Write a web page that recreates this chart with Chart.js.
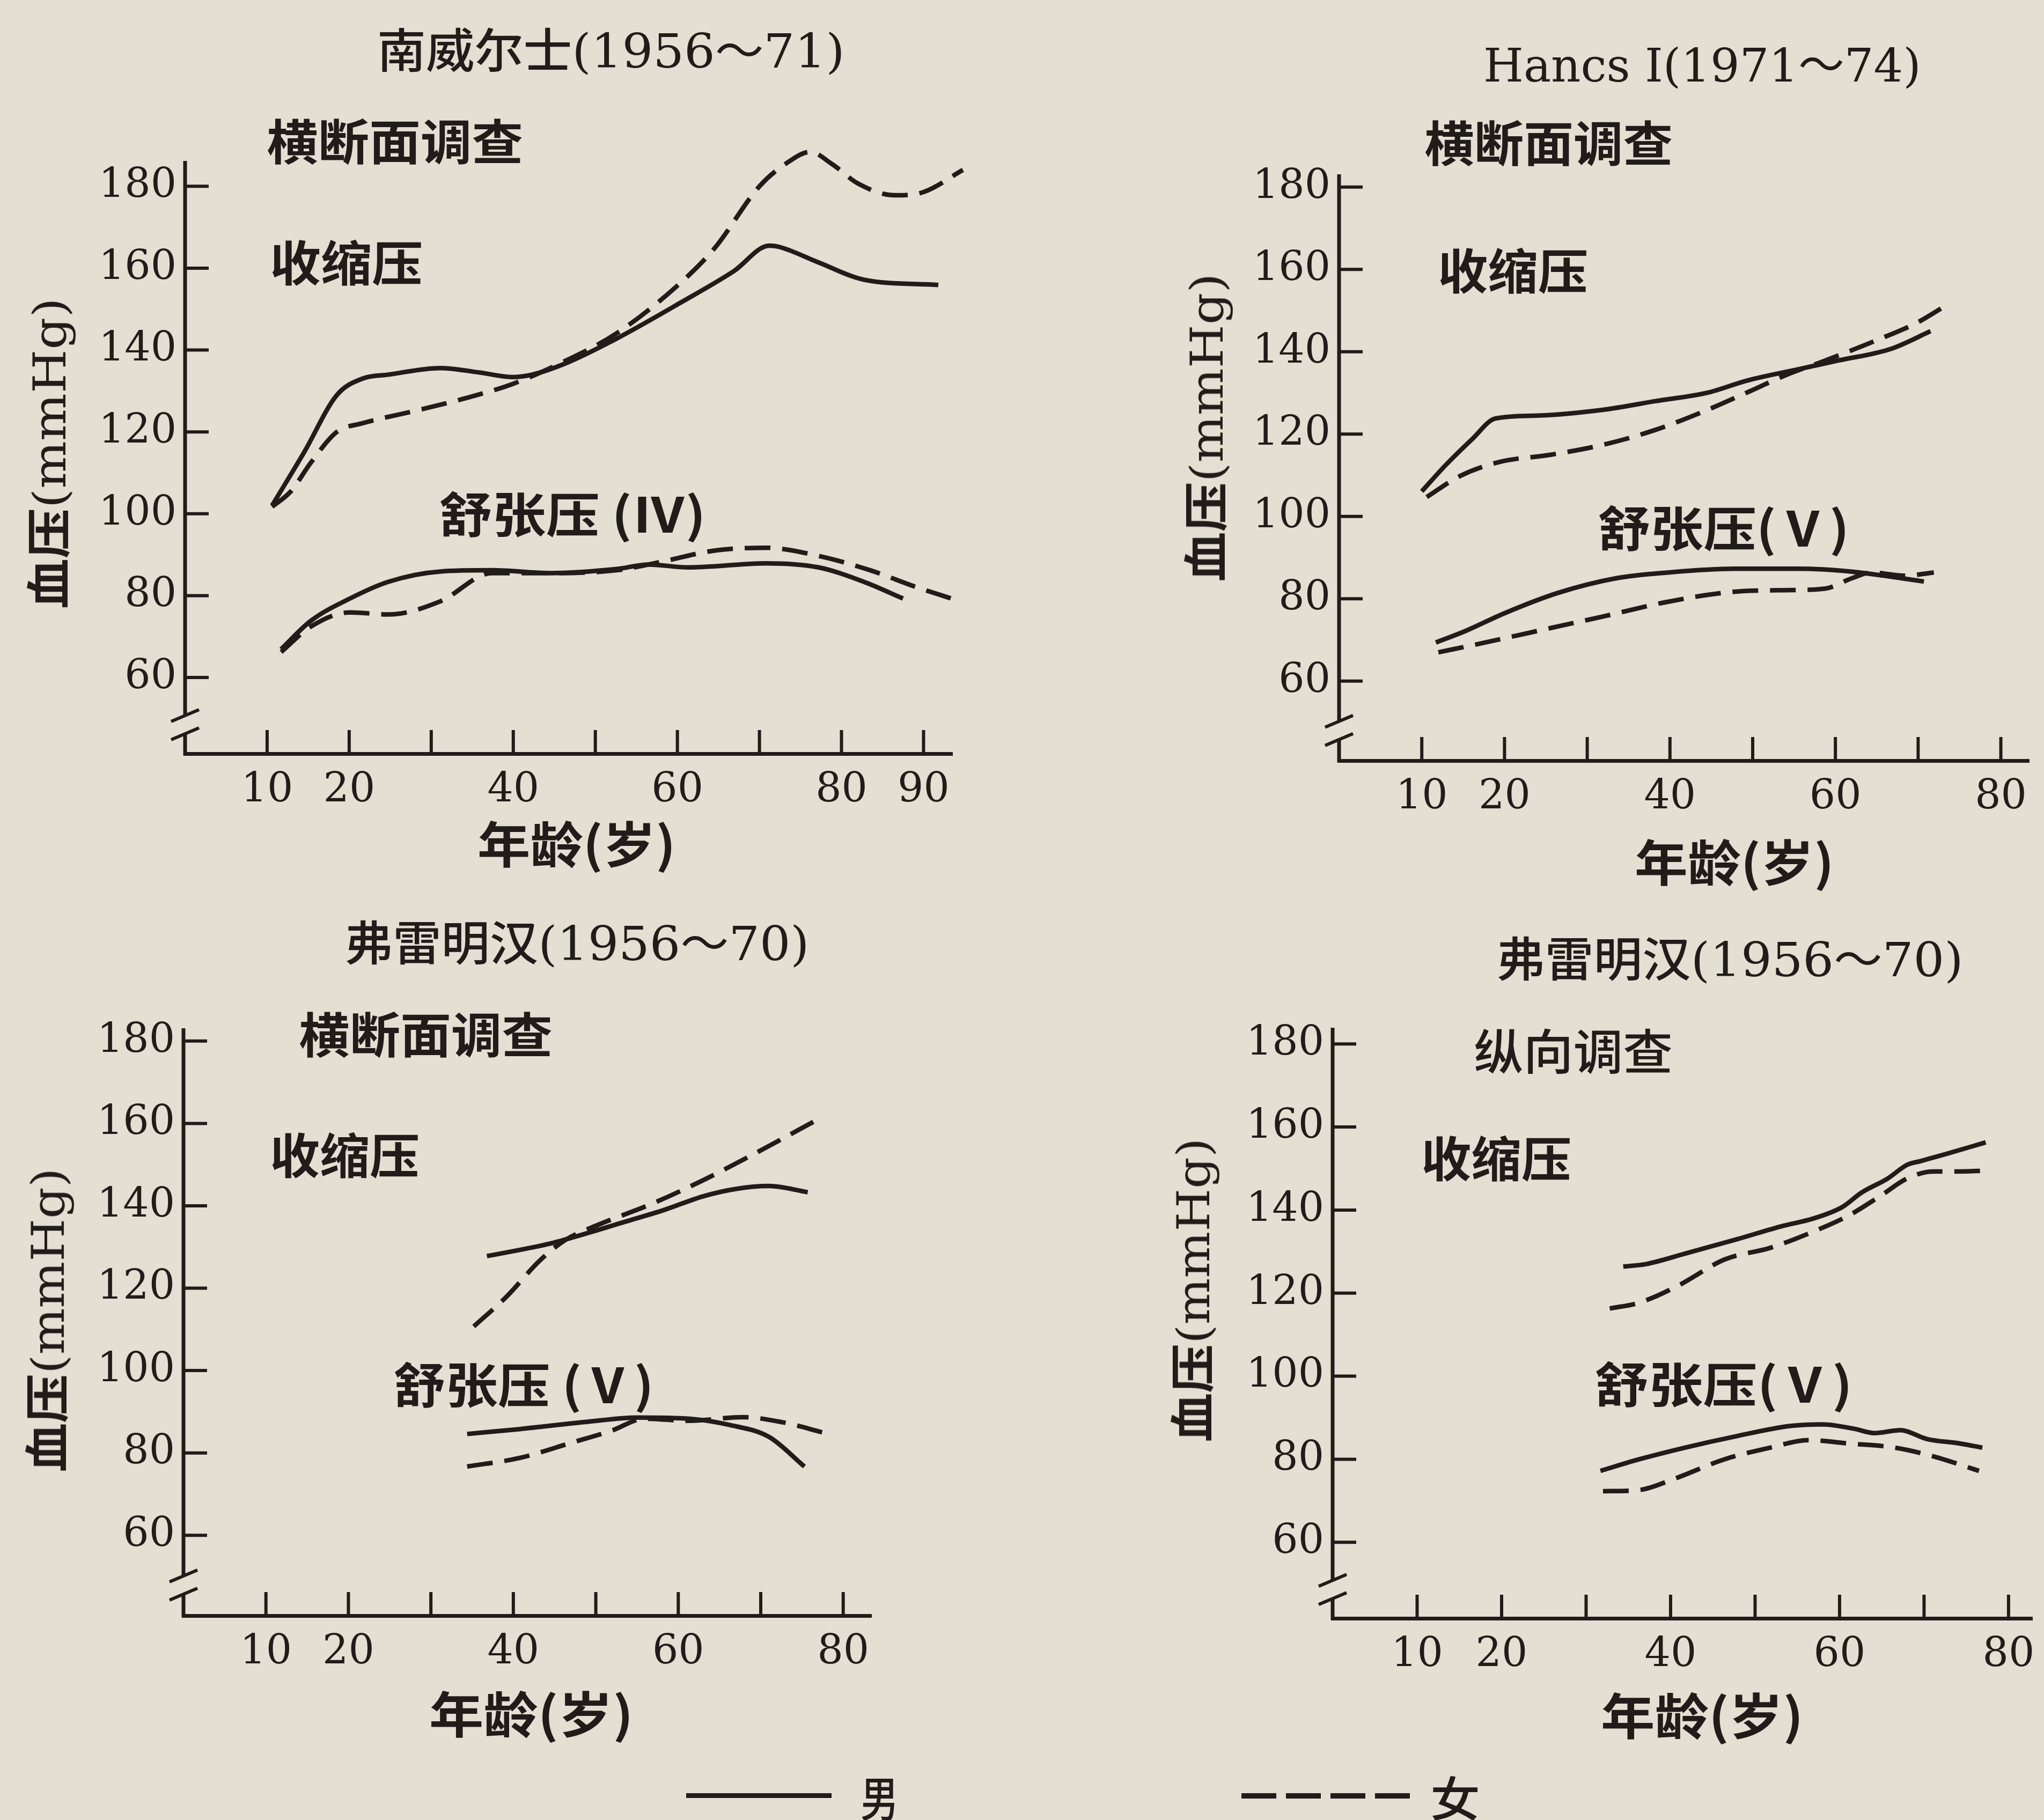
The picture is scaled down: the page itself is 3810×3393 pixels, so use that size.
<!DOCTYPE html>
<html><head><meta charset="utf-8">
<script src="https://cdn.jsdelivr.net/npm/chart.js@4"></script>
<style>
html,body{margin:0;padding:0;}
body{width:3810px;height:3393px;background:#e3dfd2;position:relative;overflow:hidden;}
canvas{position:absolute;}
.t{position:absolute;white-space:nowrap;color:#201c19;line-height:1;}
</style></head><body>
<script>
// ---------- data ----------
const xLabelsP1 = [10, 20, 40, 60, 80, 90];
const xLabelsOther = [10, 20, 40, 60, 80];
const yTickLabels = [60, 80, 100, 120, 140, 160, 180];

// Panel 1: 南威尔士(1956~71) 横断面调查  [age, mmHg]
const p1SysMale = [[10.6,102],[14.5,115],[18.5,129],[21.6,133],[24.8,134],[31.1,135.6],[35.9,134.5],[39.9,133.4],[42.3,134],[46.2,136.6],[52.6,142.8],[60.5,151.7],[66.9,159.3],[71.2,165.5],[72.4,165.2],[77.2,161.4],[82.7,157.2],[91.8,155.9]];
const p1SysFemale = [[10.6,101.7],[12.9,105.5],[15.3,112.4],[18.5,120],[21.6,122.1],[28.8,125.5],[34.3,128.3],[39.9,131.7],[46.2,137.2],[52.6,144.1],[59.7,155.2],[64.5,164.8],[70,180],[73.2,185.5],[76.2,188.4],[78.8,185.5],[82,180.7],[86.5,177.8],[90,178.6],[94.8,184]];
const p1DiaMale = [[11.7,66.9],[15.3,73.8],[20.1,79.3],[24.8,83.4],[31.1,85.9],[37.4,86.2],[44.5,85.5],[52.6,86.5],[56.5,87.6],[61.3,86.9],[70.8,87.9],[77.2,86.9],[82.7,83.4],[87.5,79.3]];
const p1DiaFemale = [[11.7,66.2],[15.3,72.4],[20.1,75.9],[24.8,75.4],[31.1,78.6],[37.4,85.5],[44.5,85.5],[52.6,86.2],[58.1,88.3],[64.5,91],[70.8,91.7],[77.2,89.7],[83.5,86.2],[89.1,82.1],[94.5,78.6]];

// Panel 2: Hancs I(1971~74) 横断面调查
const p2SysMale = [[10,106.1],[12.9,112.5],[16.1,118.8],[18.9,123.8],[24,124.5],[31.9,125.9],[38.2,128],[44.6,130.1],[49.3,133],[55.6,135.8],[60.4,137.9],[66.7,140.7],[71.5,145]];
const p2SysFemale = [[10.6,104.7],[14.5,109.7],[19.3,113.2],[25.6,115],[31.9,117.4],[38.2,121],[43.7,125.2],[49.3,130.1],[54.1,134.4],[58.8,137.9],[65.1,142.9],[69.9,147.1],[73.8,151.8]];
const p2DiaMale = [[11.7,69.4],[15.3,72.2],[20,76.5],[26.4,81.4],[33.5,85],[39.8,86.4],[47.7,87.3],[55.6,87.3],[62,86.6],[65.9,85.6],[70.7,84.2]];
const p2DiaFemale = [[12,67],[17.7,69.4],[24,72.2],[31.9,75.7],[39.8,79.3],[47.7,81.7],[54.1,82.1],[58.8,82.5],[62,85],[64.4,86.4],[68.3,85.6],[71.9,86.4]];

// Panel 3: 弗雷明汉(1956~70) 横断面调查
const p3SysMale = [[36.8,127.8],[40.8,129.3],[44.8,131],[48.7,133.2],[53.5,136.1],[58.3,139],[63,142.3],[67,144.1],[71,144.8],[75.7,143.3]];
const p3SysFemale = [[35.2,110.7],[39.2,118],[43.2,126.7],[46.3,131.7],[50.3,135.4],[56.7,140.4],[63,146.2],[69.4,152.8],[77.3,161.4]];
const p3DiaMale = [[34.4,84.6],[40.8,85.8],[48.7,87.5],[55.1,88.6],[61.4,88.3],[66.2,86.8],[71,83.9],[75.3,76.7]];
const p3DiaFemale = [[34.4,76.7],[40.8,78.8],[47.1,82.5],[51.9,85.4],[55.9,88.3],[61.4,87.8],[67.8,88.7],[72.5,87.5],[77.7,84.9]];

// Panel 4: 弗雷明汉(1956~70) 纵向调查
const p4SysMale = [[34.4,126.4],[37.1,127],[41.7,129.5],[47.9,133],[53.3,136.2],[56.8,137.9],[60.3,140.7],[62.6,144.2],[65.7,147.6],[68,150.9],[69.6,151.8],[72.6,153.5],[77.3,156.3]];
const p4SysFemale = [[32.8,116.3],[36.3,117.7],[40.9,121.8],[46.4,128.1],[51.8,130.9],[56.4,134.4],[61,138.6],[64.9,143.5],[68,147.6],[71.1,149.3],[74.2,149.3],[77.1,149.5]];
const p4DiaMale = [[31.7,77.2],[36.3,80],[41.7,82.8],[47.9,85.6],[54.1,88],[58,88.4],[61.8,87.3],[64.1,86.3],[67.2,87],[70.3,84.9],[74.2,83.8],[76.9,82.8]];
const p4DiaFemale = [[32,72.3],[36.3,72.6],[40.2,75.1],[46.4,80],[51.8,82.8],[56.4,84.6],[61,83.8],[66.5,82.8],[71.1,80.7],[76.5,77.2]];

// ---------- drawing ----------
const INK = '#201c19';
const PADL = 260, PADT = 90, PADR = 90, PADB = 170;
const TICKFONT = { family: "'DejaVu Serif'", size: 76 };

const axisDeco = {
  id: 'axisDeco',
  afterDraw(chart) {
    const { ctx, chartArea: a, scales: { x, y } } = chart;
    ctx.save();
    ctx.strokeStyle = INK;
    ctx.lineCap = 'butt';
    ctx.lineWidth = 6;
    x.ticks.forEach(t => {
      if (t.value <= 0) return;
      const px = x.getPixelForValue(t.value);
      ctx.beginPath(); ctx.moveTo(px, a.bottom); ctx.lineTo(px, a.bottom - 44); ctx.stroke();
    });
    y.ticks.forEach(t => {
      const py = y.getPixelForValue(t.value);
      ctx.beginPath(); ctx.moveTo(a.left, py); ctx.lineTo(a.left + 44, py); ctx.stroke();
    });
    const p60 = y.getPixelForValue(yTickLabels[0]);
    const bc = a.bottom - 0.38 * (a.bottom - p60);
    ctx.lineWidth = 7;
    ctx.beginPath();
    ctx.moveTo(a.left, a.top); ctx.lineTo(a.left, bc - 17);
    ctx.moveTo(a.left, bc + 17); ctx.lineTo(a.left, a.bottom + 3);
    ctx.stroke();
    ctx.lineWidth = 6;
    [-17, 17].forEach(d => {
      ctx.beginPath(); ctx.moveTo(a.left - 26, bc + d + 11); ctx.lineTo(a.left + 26, bc + d - 11); ctx.stroke();
    });
    ctx.restore();
  }
};

function series(pairs, dashed) {
  return {
    data: pairs.map(([a, b]) => ({ x: a, y: b })),
    borderColor: INK, borderWidth: 8.5,
    borderDash: dashed ? [48, 22] : [],
    pointRadius: 0, fill: false, clip: false,
    cubicInterpolationMode: 'monotone'
  };
}

function makeChart(box, xMax, yMin, yMax, xLabels, sets) {
  const cv = document.createElement('canvas');
  const w = box.R - box.L + PADL + PADR, h = box.B - box.T + PADT + PADB;
  cv.width = w; cv.height = h;
  cv.style.left = (box.L - PADL) + 'px';
  cv.style.top = (box.T - PADT) + 'px';
  cv.style.width = w + 'px'; cv.style.height = h + 'px';
  document.body.appendChild(cv);
  new Chart(cv, {
    type: 'line',
    data: { datasets: [series(sets[0], false), series(sets[1], true), series(sets[2], false), series(sets[3], true)] },
    options: {
      responsive: false, animation: false, devicePixelRatio: 1,
      layout: { padding: { left: 0, top: PADT, right: PADR, bottom: 0 } },
      plugins: { legend: { display: false }, tooltip: { enabled: false } },
      scales: {
        x: {
          type: 'linear', min: 0, max: xMax,
          grid: { display: false, drawTicks: false },
          border: { display: true, color: INK, width: 7 },
          ticks: {
            stepSize: 10, includeBounds: false, autoSkip: false, maxRotation: 0, minRotation: 0,
            padding: 24, color: INK, font: TICKFONT,
            callback: v => xLabels.includes(v) ? String(v) : ''
          },
          afterFit: s => { s.height = PADB; }
        },
        y: {
          type: 'linear', min: yMin, max: yMax,
          grid: { display: false, drawTicks: false },
          border: { display: false },
          ticks: {
            stepSize: 20, includeBounds: false, autoSkip: false,
            padding: 16, color: INK, font: TICKFONT,
            callback: v => yTickLabels.includes(v) ? String(v) : ''
          },
          afterFit: s => { s.width = PADL; }
        }
      }
    },
    plugins: [axisDeco]
  });
}

makeChart({ L: 345, T: 300, R: 1775, B: 1405 }, 93.5, 41.4, 186.2, xLabelsP1, [p1SysMale, p1SysFemale, p1DiaMale, p1DiaFemale]);
makeChart({ L: 2496, T: 325, R: 3782, B: 1418 }, 83.4, 40.7, 183.1, xLabelsOther, [p2SysMale, p2SysFemale, p2DiaMale, p2DiaFemale]);
makeChart({ L: 342, T: 1917, R: 1624, B: 3012 }, 83.4, 40.5, 183.1, xLabelsOther, [p3SysMale, p3SysFemale, p3DiaMale, p3DiaFemale]);
makeChart({ L: 2484, T: 1916, R: 3788, B: 3017 }, 82.8, 41.7, 183.9, xLabelsOther, [p4SysMale, p4SysFemale, p4DiaMale, p4DiaFemale]);

// ---------- text ----------
const CJK = "'Noto Sans CJK SC'";
const SER = "'DejaVu Serif','Noto Sans CJK SC'";
const ylab = `<span style="font-family:${CJK};font-weight:700">血压</span><span style="font-family:${SER}">(mmHg)</span>`;
const xlab = `<span style="font-family:${CJK};font-weight:700">年龄(岁)</span>`;
const texts = [
  { h: `<span style="font-family:${CJK};font-weight:500">南威尔士</span><span style="font-family:${SER}">(1956～71)</span>`, l: 703, r: 1575, cy: 92, s: 88 },
  { h: `<span style="font-family:${SER}">Hancs I(1971～74)</span>`, l: 2765, r: 3581, cy: 122, s: 86 },
  { h: `<span style="font-family:${CJK};font-weight:500">弗雷明汉</span><span style="font-family:${SER}">(1956～70)</span>`, l: 642, r: 1509, cy: 1756, s: 88 },
  { h: `<span style="font-family:${CJK};font-weight:500">弗雷明汉</span><span style="font-family:${SER}">(1956～70)</span>`, l: 2789, r: 3660, cy: 1786, s: 88 },
  { h: `<span style="font-family:${CJK};font-weight:700">横断面调查</span>`, l: 497, r: 975, cy: 263, s: 90 },
  { h: `<span style="font-family:${CJK};font-weight:700">横断面调查</span>`, l: 2655, r: 3118, cy: 266, s: 90 },
  { h: `<span style="font-family:${CJK};font-weight:700">横断面调查</span>`, l: 557, r: 1030, cy: 1928, s: 90 },
  { h: `<span style="font-family:${CJK};font-weight:500">纵向调查</span>`, l: 2747, r: 3118, cy: 1959, s: 90 },
  { h: `<span style="font-family:${CJK};font-weight:700">收缩压</span>`, l: 503, r: 788, cy: 489, s: 90 },
  { h: `<span style="font-family:${CJK};font-weight:700">收缩压</span>`, l: 2680, r: 2960, cy: 504, s: 90 },
  { h: `<span style="font-family:${CJK};font-weight:700">收缩压</span>`, l: 503, r: 782, cy: 2153, s: 90 },
  { h: `<span style="font-family:${CJK};font-weight:700">收缩压</span>`, l: 2649, r: 2929, cy: 2159, s: 90 },
  { h: `<span style="font-family:${CJK};font-weight:700">舒张压 (Ⅳ)</span>`, l: 818, r: 1315, cy: 958, s: 90 },
  { h: `<span style="font-family:${CJK};font-weight:700">舒张压(Ⅴ)</span>`, l: 2978, r: 3447, cy: 984, s: 90 },
  { h: `<span style="font-family:${CJK};font-weight:700">舒张压 (Ⅴ)</span>`, l: 733, r: 1218, cy: 2581, s: 90 },
  { h: `<span style="font-family:${CJK};font-weight:700">舒张压(Ⅴ)</span>`, l: 2972, r: 3453, cy: 2580, s: 90 },
  { h: xlab, l: 890, r: 1260, cy: 1573, s: 92 },
  { h: xlab, l: 3047, r: 3419, cy: 1607, s: 92 },
  { h: xlab, l: 800, r: 1181, cy: 3195, s: 92 },
  { h: xlab, l: 2984, r: 3362, cy: 3198, s: 92 },
  { h: ylab, cx: 90, cy: 845, len: 580, s: 84, rot: true },
  { h: ylab, cx: 2247, cy: 797, len: 575, s: 84, rot: true },
  { h: ylab, cx: 87, cy: 2461, len: 567, s: 84, rot: true },
  { h: ylab, cx: 2222, cy: 2405, len: 567, s: 84, rot: true },
  { h: `<span style="font-family:${CJK};font-weight:500">男</span>`, l: 1604, r: 1675, cy: 3352, s: 88 },
  { h: `<span style="font-family:${CJK};font-weight:500">女</span>`, l: 2666, r: 2759, cy: 3352, s: 88 }
];

texts.forEach(o => {
  const d = document.createElement('div');
  d.className = 't';
  d.style.fontSize = o.s + 'px';
  d.innerHTML = o.h;
  document.body.appendChild(d);
  const w0 = d.offsetWidth, h0 = d.offsetHeight;
  if (o.rot) {
    d.style.left = (o.cx - w0 / 2) + 'px';
    d.style.top = (o.cy - h0 / 2) + 'px';
    d.style.transformOrigin = 'center center';
    d.style.transform = `rotate(-90deg) scaleX(${o.len / w0})`;
  } else {
    d.style.left = o.l + 'px';
    d.style.top = (o.cy - h0 / 2) + 'px';
    d.style.transformOrigin = 'left center';
    d.style.transform = `scaleX(${(o.r - o.l) / w0})`;
  }
});

// legend lines
const solid = document.createElement('div');
solid.style.cssText = `position:absolute;left:1279px;top:3343px;width:271px;height:9px;background:${INK};`;
document.body.appendChild(solid);
const dash = document.createElement('div');
dash.style.cssText = `position:absolute;left:2314px;top:3343px;width:315px;height:10px;background:repeating-linear-gradient(to right, ${INK} 0 65px, transparent 65px 83px);`;
document.body.appendChild(dash);
</script>
</body></html>
